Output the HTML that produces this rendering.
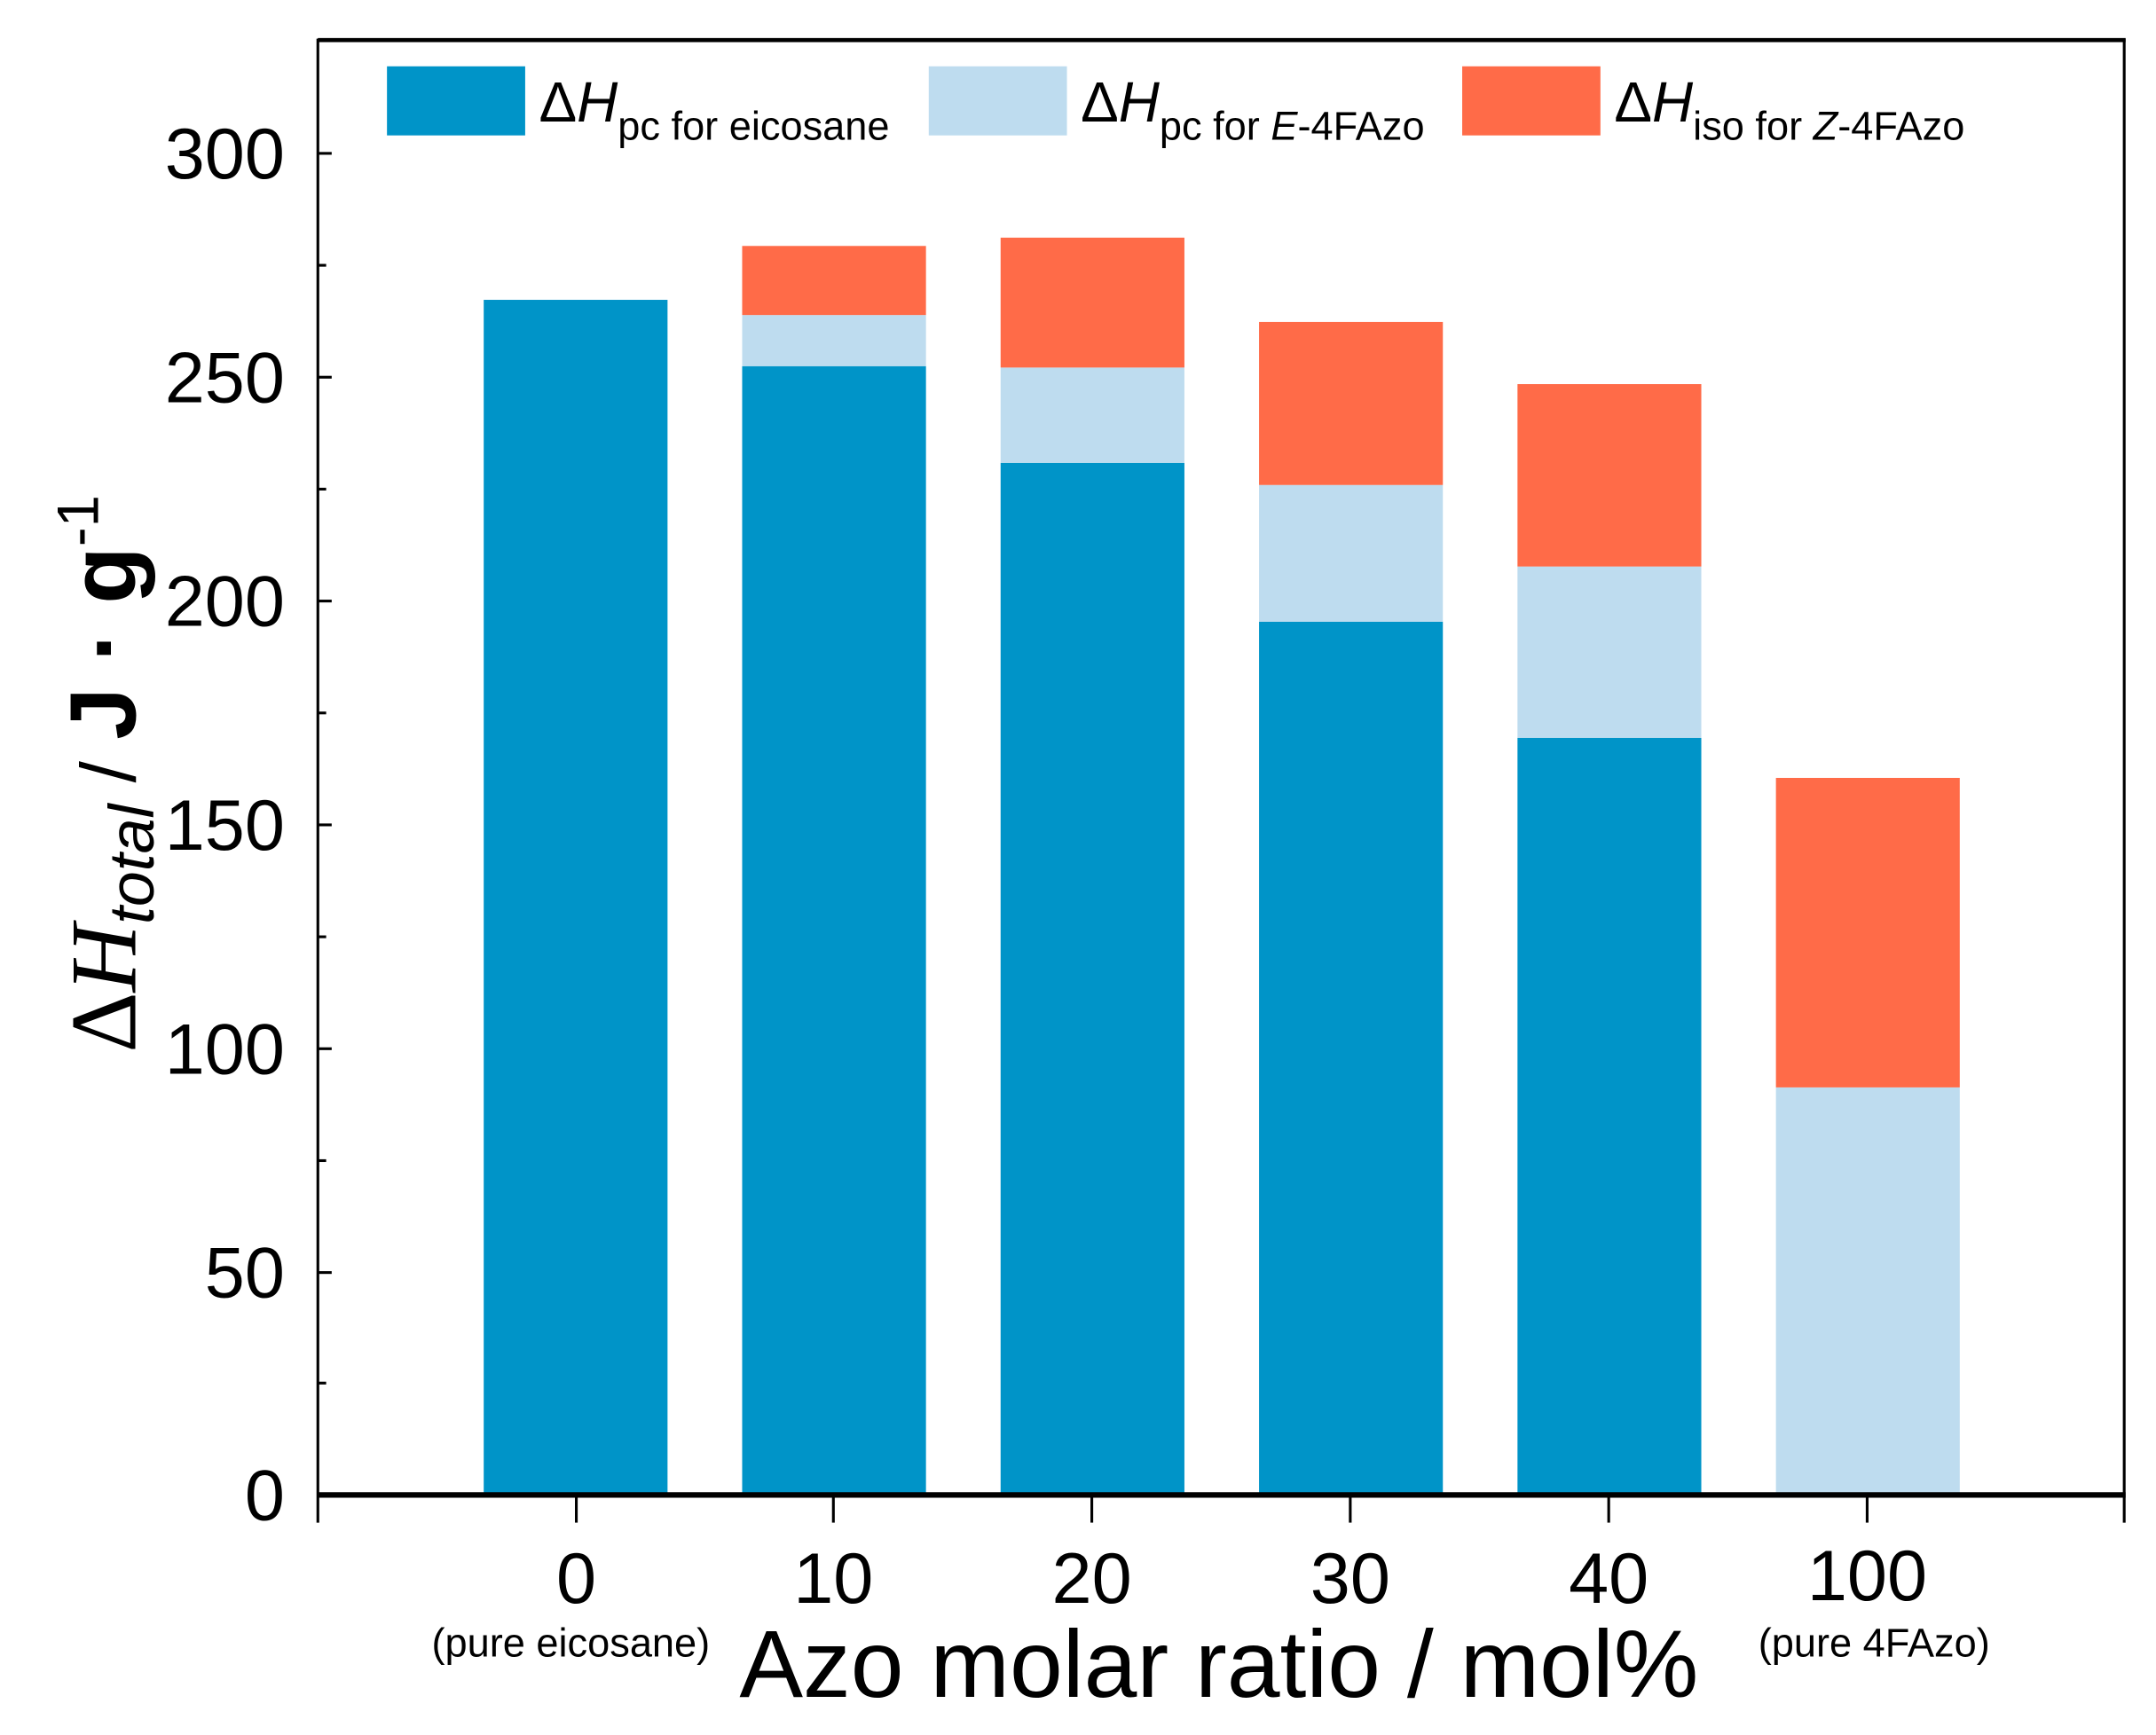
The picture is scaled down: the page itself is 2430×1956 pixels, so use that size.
<!DOCTYPE html>
<html><head><meta charset="utf-8"><style>html,body{margin:0;padding:0;background:#fff}svg{display:block}</style></head>
<body>
<svg width="2430" height="1956" viewBox="0 0 1560 1255.7" xmlns="http://www.w3.org/2000/svg" font-family="Liberation Sans, sans-serif">
<rect width="1560" height="1256" fill="#fff"/>
<g>
<rect x="350" y="217" width="133" height="865" fill="#0094C8"/>
<rect x="537" y="265" width="133" height="817" fill="#0094C8"/>
<rect x="537" y="228" width="133" height="37" fill="#BEDCEF"/>
<rect x="537" y="178" width="133" height="50" fill="#FF6B48"/>
<rect x="724" y="335" width="133" height="747" fill="#0094C8"/>
<rect x="724" y="266" width="133" height="69" fill="#BEDCEF"/>
<rect x="724" y="172" width="133" height="94" fill="#FF6B48"/>
<rect x="911" y="450" width="133" height="632" fill="#0094C8"/>
<rect x="911" y="351" width="133" height="99" fill="#BEDCEF"/>
<rect x="911" y="233" width="133" height="118" fill="#FF6B48"/>
<rect x="1098" y="534" width="133" height="548" fill="#0094C8"/>
<rect x="1098" y="410" width="133" height="124" fill="#BEDCEF"/>
<rect x="1098" y="278" width="133" height="132" fill="#FF6B48"/>
<rect x="1285" y="787" width="133" height="295" fill="#BEDCEF"/>
<rect x="1285" y="563" width="133" height="224" fill="#FF6B48"/>
</g>
<line x1="230" y1="29" x2="1538" y2="29" stroke="#000" stroke-width="3"/>
<line x1="230" y1="1082" x2="1538" y2="1082" stroke="#000" stroke-width="4"/>
<line x1="230" y1="28" x2="230" y2="1102" stroke="#000" stroke-width="2"/>
<line x1="1537" y1="28" x2="1537" y2="1102" stroke="#000" stroke-width="2"/>
<g stroke="#000" stroke-width="2">
<line x1="230" y1="111" x2="240" y2="111"/><line x1="230" y1="273" x2="240" y2="273"/>
<line x1="230" y1="435" x2="240" y2="435"/><line x1="230" y1="597" x2="240" y2="597"/>
<line x1="230" y1="759" x2="240" y2="759"/><line x1="230" y1="921" x2="240" y2="921"/>
<line x1="230" y1="192" x2="236" y2="192"/><line x1="230" y1="354" x2="236" y2="354"/>
<line x1="230" y1="516" x2="236" y2="516"/><line x1="230" y1="678" x2="236" y2="678"/>
<line x1="230" y1="840" x2="236" y2="840"/><line x1="230" y1="1001" x2="236" y2="1001"/>
<line x1="417" y1="1082" x2="417" y2="1102"/><line x1="603" y1="1082" x2="603" y2="1102"/>
<line x1="790" y1="1082" x2="790" y2="1102"/><line x1="977" y1="1082" x2="977" y2="1102"/>
<line x1="1164" y1="1082" x2="1164" y2="1102"/><line x1="1351" y1="1082" x2="1351" y2="1102"/>
</g>
<g font-size="52" text-anchor="end" fill="#000">
<text x="206" y="129">300</text><text x="206" y="291">250</text><text x="206" y="453">200</text>
<text x="206" y="615">150</text><text x="206" y="777">100</text><text x="206" y="939">50</text><text x="206" y="1100">0</text>
</g>
<g font-size="52" text-anchor="middle" fill="#000">
<text x="417" y="1160">0</text><text x="603" y="1160">10</text><text x="790" y="1160">20</text>
<text x="977" y="1160">30</text><text x="1164" y="1160">40</text><text x="1351" y="1158">100</text>
</g>
<text x="413" y="1199" font-size="29" text-anchor="middle">(pure eicosane)</text>
<text x="1356" y="1199" font-size="29" text-anchor="middle">(pure 4FAzo)</text>
<text x="882" y="1228" font-size="69" text-anchor="middle">Azo molar ratio / mol%</text>
<g transform="translate(98,560) rotate(-90)">
<text x="0" y="0" text-anchor="middle" font-size="68"><tspan font-family="Liberation Serif, serif">Δ</tspan><tspan font-family="Liberation Serif, serif" font-style="italic">H</tspan><tspan font-size="46" font-style="italic" dy="13">total</tspan><tspan dy="-13" font-size="56"> / </tspan><tspan font-weight="bold">J · g</tspan><tspan font-size="42" dy="-27">-1</tspan></text>
</g>
<rect x="280" y="48" width="100" height="50" fill="#0094C8"/>
<rect x="672" y="48" width="100" height="50" fill="#BEDCEF"/>
<rect x="1058" y="48" width="100" height="50" fill="#FF6B48"/>
<g font-size="41" fill="#000">
<text x="390" y="88">Δ<tspan font-style="italic">H</tspan><tspan font-size="29" dy="13">pc for eicosane</tspan></text>
<text x="782" y="88">Δ<tspan font-style="italic">H</tspan><tspan font-size="29" dy="13">pc for <tspan font-style="italic">E</tspan>-4FAzo</tspan></text>
<text x="1168" y="88">Δ<tspan font-style="italic">H</tspan><tspan font-size="29" dy="13">iso for <tspan font-style="italic">Z</tspan>-4FAzo</tspan></text>
</g>
</svg>
</body></html>
